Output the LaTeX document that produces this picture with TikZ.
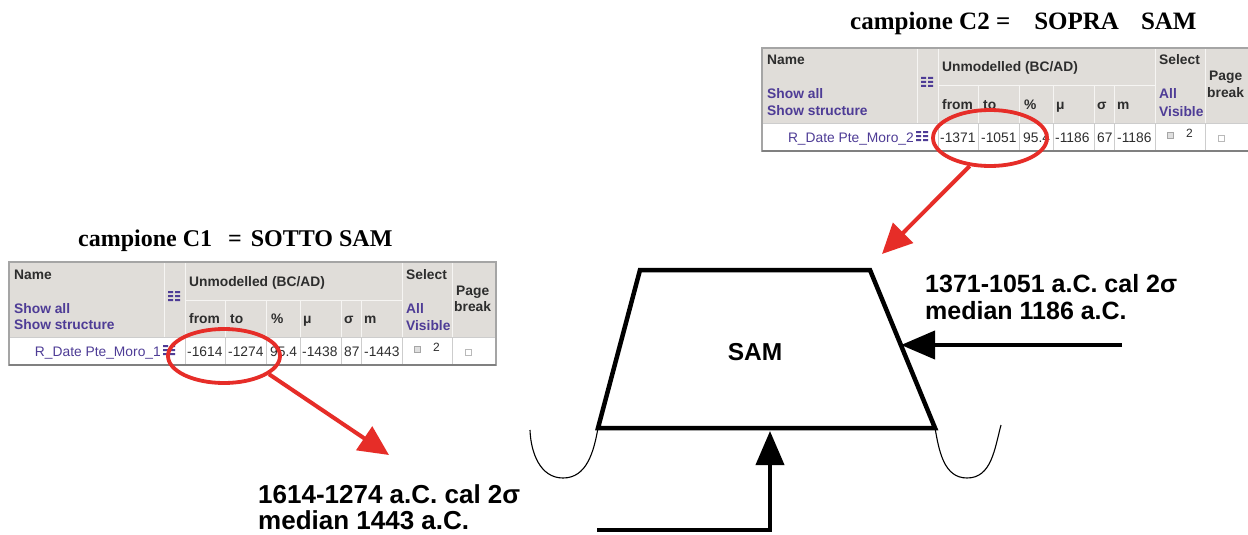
\documentclass[tikz,border=0pt]{standalone}
\usepackage{fontspec}
\setmainfont{Liberation Serif}
\newfontfamily\arial{Liberation Sans}
\usetikzlibrary{arrows.meta,shapes.geometric}
\definecolor{hdrgray}{RGB}{224,221,217}
\definecolor{hsepc}{RGB}{246,245,243}
\definecolor{dsepc}{RGB}{205,205,205}
\definecolor{outerc}{RGB}{165,165,165}
\definecolor{linkc}{RGB}{78,60,150}
\definecolor{txtdark}{RGB}{45,45,45}
\definecolor{redc}{RGB}{230,45,40}
\tikzset{
  hd/.style={anchor=base west, inner sep=0pt, font=\arial\fontsize{13.8}{16}\selectfont\bfseries, text=txtdark},
  lk/.style={hd, text=linkc},
  dt/.style={anchor=base west, inner sep=0pt, font=\arial\fontsize{13.8}{16}\selectfont, text=txtdark},
  hsep/.style={draw=hsepc, line width=1pt},
  dsep/.style={draw=dsepc, line width=1pt},
  outer/.style={draw=outerc, line width=1.2pt},
  ttl/.style={anchor=base west, inner sep=0pt, font=\bfseries},
  lbl/.style={anchor=base west, inner sep=0pt, align=left},
  redarrow/.style={draw=redc, line width=4pt, -{Triangle[length=30pt,width=28pt]}},
  redring/.style={draw=redc, line width=3.8pt, ellipse, fill=none},
  blk/.style={line width=4.5pt, line join=miter},
  blkarrow/.style={line width=4pt, -{Triangle[length=34pt,width=28pt]}},
  thinarc/.style={line width=1.1pt}
}
\newcommand{\iconbars}[2]{%
  \fill[linkc] (#1,#2) rectangle ++(5,2) (#1+7,#2) rectangle ++(5,2)
    (#1,#2+4) rectangle ++(5,2) (#1+7,#2+4) rectangle ++(5,2)
    (#1,#2+8) rectangle ++(5,2) (#1+7,#2+8) rectangle ++(5,2);}
\newcommand{\radtable}[9]{%
\begin{scope}[shift={(#2)}]
  \fill[hdrgray] (0,0) rectangle (487,75);
  \fill[white] (0,75) rectangle (487,103);
  \draw[hsep] (155,0) -- (155,75) (176,0) -- (176,75) (393,0) -- (393,75) (443,0) -- (443,75)
    (176,38) -- (393,38) (216,38) -- (216,75) (257,38) -- (257,75) (291,38) -- (291,75)
    (332,38) -- (332,75) (352,38) -- (352,75);
  \draw[dsep] (0,75) -- (487,75) (176,75) -- (176,103) (216,75) -- (216,103) (257,75) -- (257,103)
    (291,75) -- (291,103) (332,75) -- (332,103) (352,75) -- (352,103) (393,75) -- (393,103)
    (443,75) -- (443,103);
  \draw[outer] (0,0) rectangle (487,103);
  \draw[draw=gray, line width=1.5pt] (0,103) -- (487,103);
  \iconbars{159}{29}
  \iconbars{154}{83}
  \node[hd] (#1-nm) at (5,17) {Name};
  \node[lk] (#1-sa) at (5,51) {Show all};
  \node[lk] (#1-ss) at (5,67) {Show structure};
  \node[hd] (#1-un) at (180,24) {Unmodelled (BC/AD)};
  \node[hd] (#1-fr) at (180,61) {from};
  \node[hd] (#1-to) at (221,61) {to};
  \node[hd] (#1-pc) at (262,61) {\%};
  \node[hd] (#1-mu) at (294,61) {μ};
  \node[hd] (#1-sg) at (335,61) {σ};
  \node[hd] (#1-m) at (355,61) {m};
  \node[hd] (#1-se) at (397,17) {Select};
  \node[lk] (#1-al) at (397,51) {All};
  \node[lk] (#1-vi) at (397,68) {Visible};
  \node[hd] (#1-pg) at (447,33) {Page};
  \node[hd] (#1-br) at (445,49) {break};
  \node[dt, text=linkc, anchor=base east] (#1-rd) at (152,94) {#3};
  \node[dt] (#1-d1) at (178,94) {#4};
  \node[dt] (#1-d2) at (219,94) {#5};
  \node[dt] (#1-d3) at (261,94) {#6};
  \node[dt] (#1-d4) at (293,94) {#7};
  \node[dt] (#1-d5) at (335,94) {#8};
  \node[dt] (#1-d6) at (355,94) {#9};
  \draw[gray!70, fill=gray!25, line width=0.6pt] (405,84) rectangle ++(6,6);
  \node[dt, font=\arial\fontsize{12}{14}\selectfont] (#1-two) at (424,89) {2};
  \draw[gray!55, line width=0.6pt] (456,87) rectangle ++(6,6);
\end{scope}}
\begin{document}
\begin{tikzpicture}[x=1pt,y=-1pt]
  \useasboundingbox (0,0) rectangle (1248,535);
  \fill[white] (0,0) rectangle (1248,535);
  % titles
  \node[ttl, font=\bfseries\fontsize{25}{28}\selectfont] (t2) at (850,30)
    {campione C2 =\hspace{24pt}SOPRA\hspace{22pt}SAM};
  \node[ttl, font=\bfseries\fontsize{24}{27}\selectfont] (t1) at (78,246)
    {campione C1\hspace{16pt}=\hspace{9pt}SOTTO SAM};
  % tables
  \radtable{c2}{762,48}{R\_Date Pte\_Moro\_2}{-1371}{-1051}{95.4}{-1186}{67}{-1186}
  \radtable{c1}{9,262}{R\_Date Pte\_Moro\_1}{-1614}{-1274}{95.4}{-1438}{87}{-1443}
  % red rings and arrows
  \node[redring, minimum width=114pt, minimum height=56pt] (e2) at (990,138) {};
  \node[redring, minimum width=112pt, minimum height=54pt] (e1) at (224,356) {};
  \coordinate (tip2) at (882,254);
  \coordinate (tip1) at (389,455);
  \draw[redarrow] (e2.234) -- (tip2);
  \draw[redarrow] (e1.-22) -- (tip1);
  % SAM trapezoid
  \coordinate (tl) at (640,270);
  \coordinate (tr) at (870,270);
  \coordinate (br) at (935,428);
  \coordinate (bl) at (598,428);
  \draw[blk] (tl) -- (tr) -- (br) -- (bl) -- cycle;
  \node[anchor=base, inner sep=0pt, font=\arial\bfseries\fontsize{24.5}{28}\selectfont] (sam) at (755,360) {SAM};
  % side arcs
  \coordinate (la) at (530,430);
  \coordinate (ra) at (1001,425);
  \draw[thinarc] (la) to[out=-88,in=180] (563,478) to[out=0,in=-100] (bl);
  \draw[thinarc] (br) to[out=-80,in=180] (967,478) to[out=0,in=-105] (ra);
  % black arrows
  \coordinate (rs) at (1122,345);
  \coordinate (rt) at (901,345);
  \draw[blkarrow] (rs) -- (rt);
  \coordinate (bs) at (597,530);
  \coordinate (bc) at (770,530);
  \coordinate (bt) at (770,431);
  \draw[blkarrow] (bs) -- (bc) -- (bt);
  % labels
  \node[lbl, font=\arial\bfseries\fontsize{25}{27}\selectfont] (l2a) at (925,292) {1371-1051 a.C. cal 2σ};
  \node[lbl, font=\arial\bfseries\fontsize{25}{27}\selectfont] (l2b) at (925,319) {median 1186 a.C.};
  \node[lbl, font=\arial\bfseries\fontsize{26}{28}\selectfont] (l1a) at (258,503) {1614-1274 a.C. cal 2σ};
  \node[lbl, font=\arial\bfseries\fontsize{26}{28}\selectfont] (l1b) at (258,529) {median 1443 a.C.};
\end{tikzpicture}
\end{document}
